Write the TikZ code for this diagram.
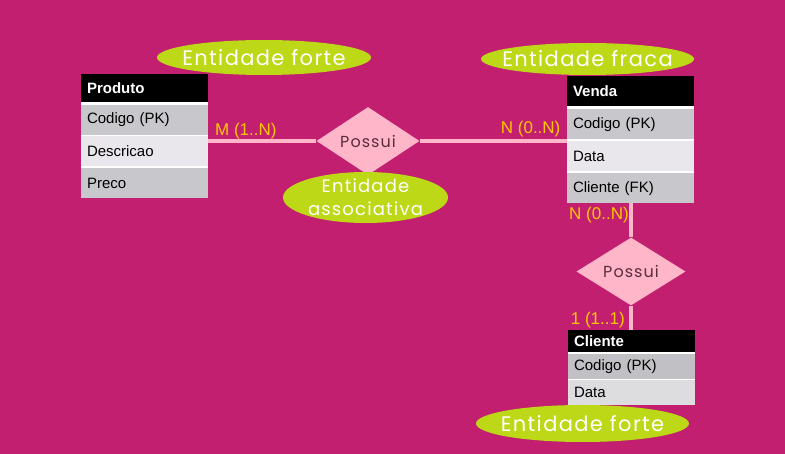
\documentclass[tikz,border=0pt]{standalone}
\usepackage{fontspec}
\setmainfont{Liberation Sans}
\newfontfamily\handfont[LetterSpace=6.5]{Poppins}
\usetikzlibrary{positioning}
\usetikzlibrary{shapes.geometric}

\definecolor{bgmag}{HTML}{C21F70}
\definecolor{limegreen}{HTML}{BCD816}
\definecolor{linkpink}{HTML}{FFB6C8}
\definecolor{darkrose}{HTML}{5B2C3C}
\definecolor{gold}{HTML}{FFC800}
\definecolor{rowgray}{HTML}{C8C7CB}
\definecolor{rowlight}{HTML}{E9E7EB}
\definecolor{cligray}{HTML}{C1C0C4}
\definecolor{clilight}{HTML}{DDDCDF}

\begin{document}
\begin{tikzpicture}[x=1pt, y=-1pt,
  head/.style={fill=black, text=white, font=\bfseries\fontsize{15}{18}\selectfont,
    inner xsep=6pt, inner ysep=0pt, outer sep=0pt, text width=115pt, align=left, minimum height=28pt},
  row/.style={fill=#1, font=\fontsize{15}{18}\selectfont,
    inner xsep=6pt, inner ysep=0pt, outer sep=0pt, text width=115pt, align=left, minimum height=30pt},
  tag/.style={ellipse, fill=limegreen, text=white, inner xsep=-40pt, inner ysep=-20pt, align=center,
    font=\handfont\fontsize{21}{24}\selectfont},
  rel/.style={diamond, fill=linkpink, text=darkrose, inner sep=0pt,
    font=\handfont\fontsize{16}{20}\selectfont},
  link/.style={draw=linkpink, line width=3.5pt},
  card/.style={text=gold, inner sep=0pt, anchor=base west, font=\fontsize{17}{20}\selectfont}
]

\fill[bgmag] (0,0) rectangle (785,454);
\useasboundingbox (0,0) rectangle (785,454);

% Produto
\node[head, anchor=north west] (hp) at (81,74) {Produto};
\node[row=rowgray, below=3pt of hp] (pc) {Codigo (PK)};
\node[row=rowlight, below=1.5pt of pc] (pd) {Descricao};
\node[row=rowgray, below=1.5pt of pd] (pp) {Preco};

% Venda
\node[head, anchor=north west, minimum height=30pt] (hv) at (567,76) {Venda};
\node[row=rowgray, minimum height=30.5pt, below=3pt of hv] (vc) {Codigo (PK)};
\node[row=rowlight, minimum height=30.5pt, below=1.5pt of vc] (vd) {Data};
\node[row=rowgray, minimum height=30.5pt, below=1.5pt of vd] (vf) {Cliente (FK)};

% Cliente
\node[head, anchor=north west, minimum height=22pt] (hc) at (568,330) {Cliente};
\node[row=cligray, minimum height=25pt, below=2pt of hc] (cc) {Codigo (PK)};
\node[row=clilight, minimum height=25pt, below=1pt of cc] (cd) {Data};

\foreach \a/\b in {hp/pc,pc/pd,pd/pp,hv/vc,vc/vd,vd/vf,hc/cc,cc/cd}
  \fill[white] (\a.south west) rectangle (\b.north east);

% relacionamentos
\node[rel, minimum width=103pt, minimum height=58pt] (r1) at (368,141) {Possui};
\node[rel, minimum width=109pt, minimum height=58pt] (r2) at (631,271.5) {Possui};

\draw[link] (r1.west) -- (r1.west -| pd.east);
\draw[link] (r1.east) -- (r1.east -| vd.west);
\draw[link] (r2.north) -- (r2.north |- vf.south);
\draw[link] (r2.south) -- (r2.south |- hc.north);

\node[card] (m1) at (215,135.7) {M (1..N)};
\node[card] (n1) at (500.7,134) {N (0..N)};
\node[card] (n2) at (569,220) {N (0..N)};
\node[card] (o1) at (570.7,325) {1 (1..1)};

% legendas
\node[tag, minimum width=214pt, minimum height=35pt] (t1) at (264,57.5) {Entidade forte};
\node[tag, minimum width=165pt, minimum height=51pt, font=\handfont\fontsize{18}{23}\selectfont] (t2) at (365.5,197.5) {Entidade\\associativa};
\node[tag, minimum width=213pt, minimum height=32pt] (t3) at (587.5,59) {Entidade fraca};
\node[tag, minimum width=213pt, minimum height=37pt] (t4) at (582.5,423.5) {Entidade forte};

\end{tikzpicture}
\end{document}
